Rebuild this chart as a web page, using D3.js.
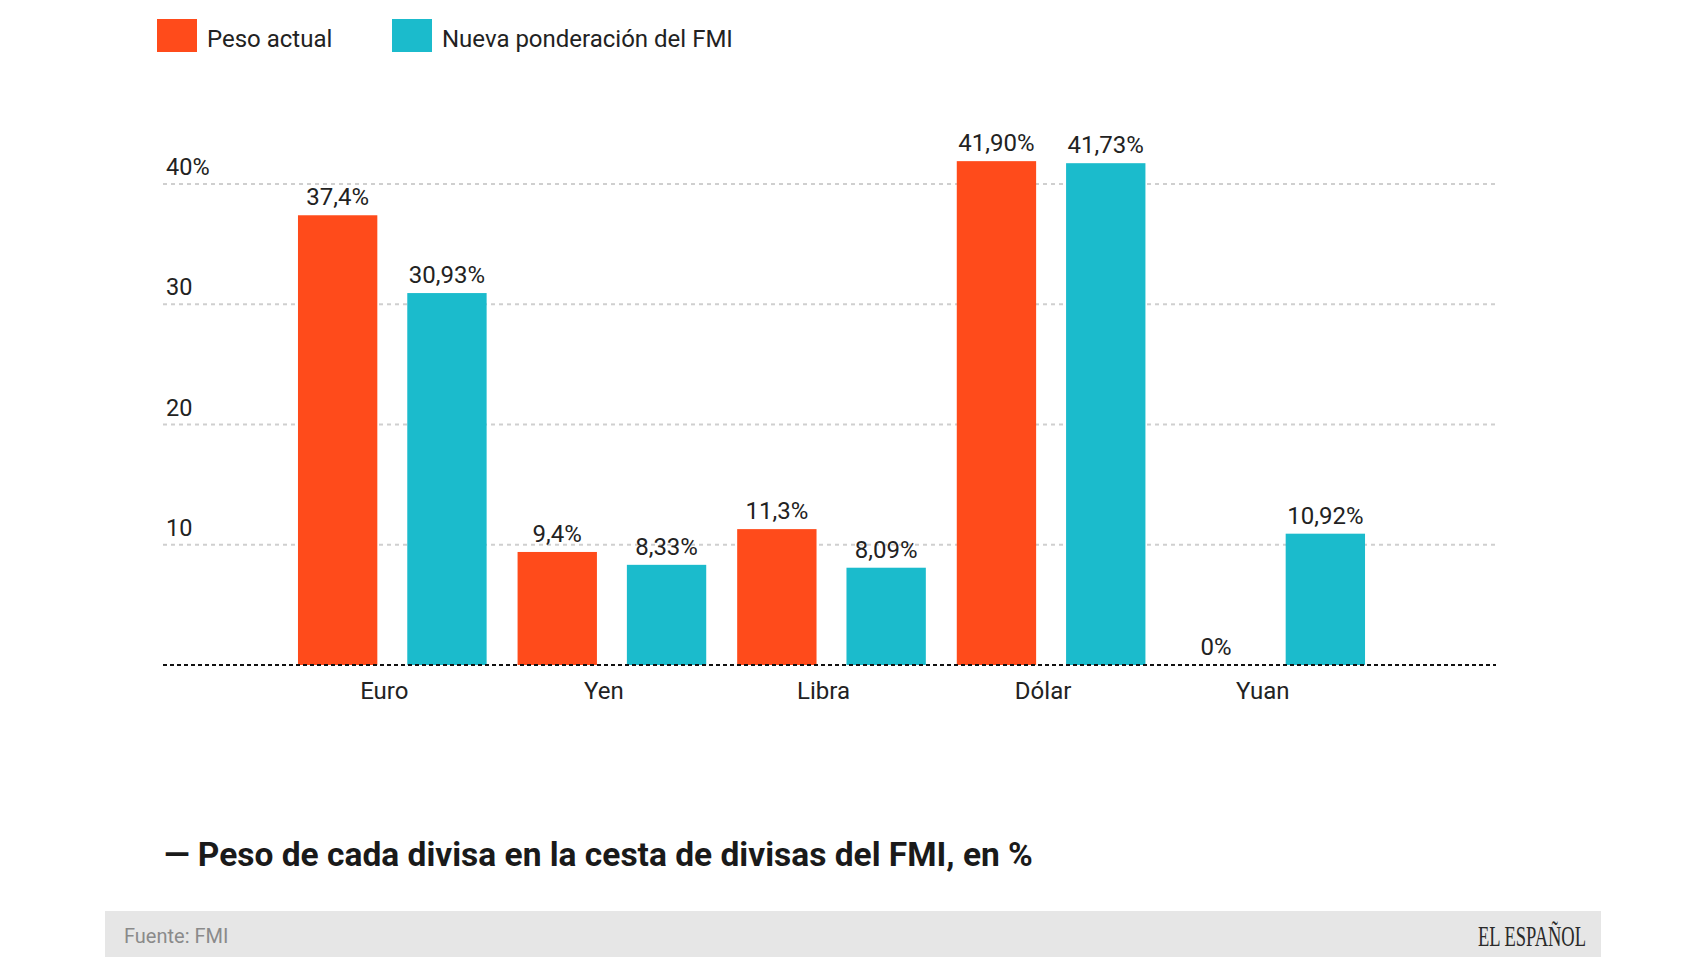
<!DOCTYPE html>
<html>
<head>
<meta charset="utf-8">
<script src="https://cdn.jsdelivr.net/npm/d3@7/dist/d3.min.js"></script>
<style>
  html, body { margin: 0; padding: 0; background: #fff; }
  svg { display: block; font-family: Roboto, "Noto Sans", sans-serif; }
</style>
</head>
<body>
<svg id="chart" width="1706" height="960"></svg>
<script>
// ---- data ----
const categories = ["Euro", "Yen", "Libra", "Dólar", "Yuan"];
const seriesNames = ["Peso actual", "Nueva ponderación del FMI"];
const pesoActual = [37.4, 9.4, 11.3, 41.90, 0];
const nuevaPonderacion = [30.93, 8.33, 8.09, 41.73, 10.92];
const pesoActualLabels = ["37,4%", "9,4%", "11,3%", "41,90%", "0%"];
const nuevaLabels = ["30,93%", "8,33%", "8,09%", "41,73%", "10,92%"];
const yTicks = [10, 20, 30, 40];
const yTickLabels = ["10", "20", "30", "40%"];
const title = "— Peso de cada divisa en la cesta de divisas del FMI, en %";
const source = "Fuente: FMI";
const brand = "EL ESPAÑOL";

const colors = ["#ff4b1b", "#1bbbcc"];
const textColor = "#222";

const svg = d3.select("#chart");

// scales
const x0 = d3.scaleBand().domain(categories).range([282.5, 1380.5]).paddingInner(31 / 220).paddingOuter(31 / 440);
const keys = ["actual", "nueva"];
const x1 = d3.scaleBand().domain(keys).range([0, x0.bandwidth()]).paddingInner(0.274).paddingOuter(0);
const y = d3.scaleLinear().domain([0, 40]).range([665, 184]);

const gridX0 = 163, gridX1 = 1496;

// gridlines
svg.append("g").selectAll("line").data(yTicks).join("line")
  .attr("x1", gridX0).attr("x2", gridX1)
  .attr("y1", d => y(d)).attr("y2", d => y(d))
  .attr("stroke", "#cfcfcf").attr("stroke-width", 2).attr("stroke-dasharray", "4,4");

// y tick labels
svg.append("g").selectAll("text").data(yTicks).join("text")
  .attr("x", 166).attr("y", d => y(d) - 9)
  .attr("font-size", 23.5).attr("fill", textColor)
  .text((d, i) => yTickLabels[i]);

// bars
const rows = categories.map((c, i) => ({
  cat: c,
  vals: [
    { key: "actual", v: pesoActual[i], label: pesoActualLabels[i] },
    { key: "nueva", v: nuevaPonderacion[i], label: nuevaLabels[i] }
  ]
}));

const groups = svg.append("g").selectAll("g").data(rows).join("g")
  .attr("transform", d => `translate(${x0(d.cat)},0)`);

groups.selectAll("rect").data(d => d.vals).join("rect")
  .attr("x", d => x1(d.key))
  .attr("y", d => y(d.v))
  .attr("width", x1.bandwidth())
  .attr("height", d => y(0) - y(d.v))
  .attr("fill", (d, i) => colors[i]);

groups.selectAll("text.val").data(d => d.vals).join("text")
  .attr("class", "val")
  .attr("x", d => x1(d.key) + x1.bandwidth() / 2)
  .attr("y", d => y(d.v) - 10)
  .attr("text-anchor", "middle")
  .attr("font-size", 24).attr("fill", textColor)
  .text(d => d.label);

// baseline
svg.append("line")
  .attr("x1", gridX0).attr("x2", gridX1)
  .attr("y1", y(0)).attr("y2", y(0))
  .attr("stroke", "#111").attr("stroke-width", 2).attr("stroke-dasharray", "4,3");

// category labels
svg.append("g").selectAll("text").data(categories).join("text")
  .attr("x", d => x0(d) + x0.bandwidth() / 2 - 8)
  .attr("y", 699)
  .attr("text-anchor", "middle")
  .attr("font-size", 24).attr("fill", textColor)
  .text(d => d);

// legend
const legendX = [157, 392];
const lg = svg.append("g").selectAll("g").data(seriesNames).join("g")
  .attr("transform", (d, i) => `translate(${legendX[i]},19)`);
lg.append("rect").attr("width", 40).attr("height", 33).attr("fill", (d, i) => colors[i]);
lg.append("text").attr("x", 50).attr("y", 28)
  .attr("font-size", 24).attr("fill", textColor).text(d => d);

// title
svg.append("text")
  .attr("x", 164).attr("y", 866)
  .attr("font-size", 33.5).attr("font-weight", 700).attr("fill", "#1a1a1a")
  .text(title);

// footer
svg.append("rect").attr("x", 105).attr("y", 911).attr("width", 1496).attr("height", 46).attr("fill", "#e6e6e6");
svg.append("text").attr("x", 124).attr("y", 943)
  .attr("font-size", 20).attr("fill", "#8a8a8a").text(source);
svg.append("text").attr("x", 1478).attr("y", 946)
  .attr("font-family", "'Liberation Serif', 'DejaVu Serif', serif")
  .attr("font-size", 29).attr("fill", "#2a2a2a")
  .attr("textLength", 108).attr("lengthAdjust", "spacingAndGlyphs")
  .text(brand);
</script>
</body>
</html>
